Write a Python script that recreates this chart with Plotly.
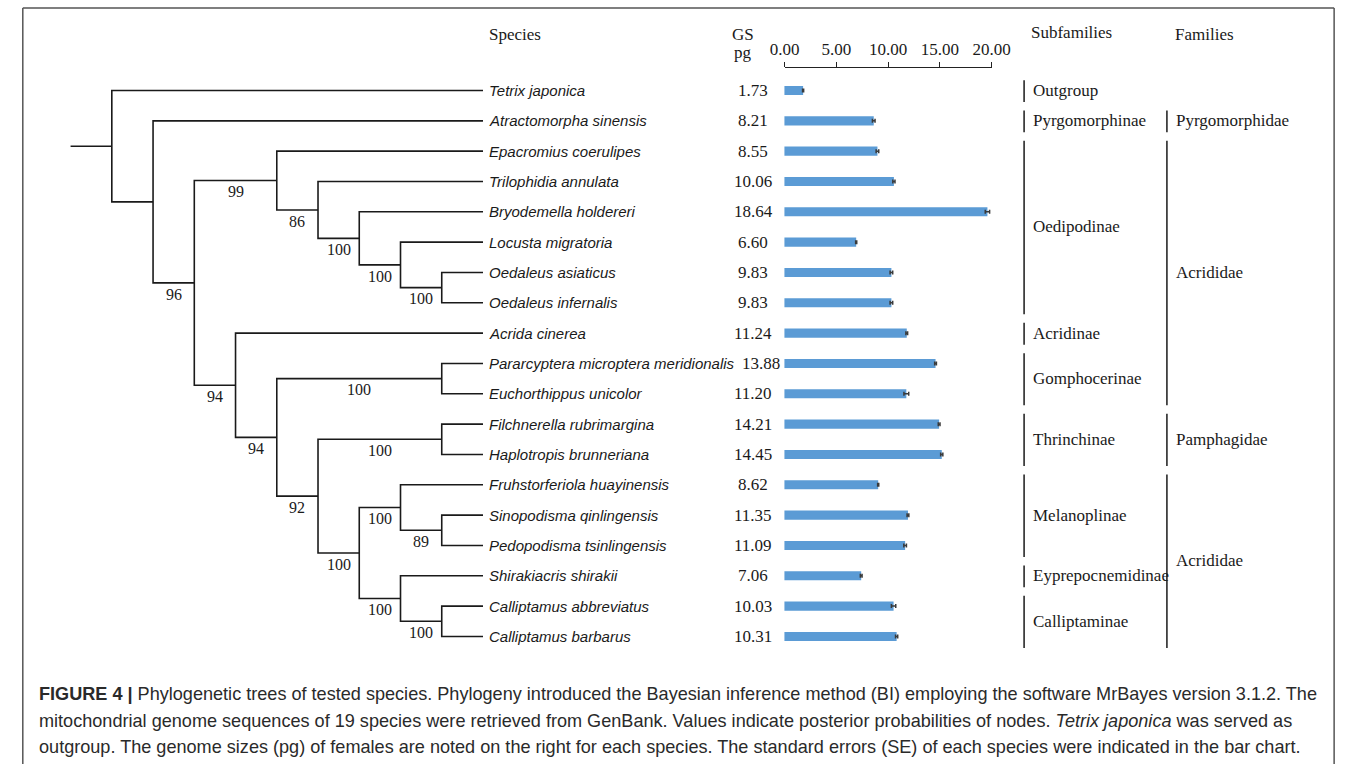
import plotly.graph_objects as go

W, H = 1358, 764

# ---------------- data ----------------
species = [
    "Tetrix japonica", "Atractomorpha sinensis", "Epacromius coerulipes",
    "Trilophidia annulata", "Bryodemella holdereri", "Locusta migratoria",
    "Oedaleus asiaticus", "Oedaleus infernalis", "Acrida cinerea",
    "Pararcyptera microptera meridionalis", "Euchorthippus unicolor",
    "Filchnerella rubrimargina", "Haplotropis brunneriana",
    "Fruhstorferiola huayinensis", "Sinopodisma qinlingensis",
    "Pedopodisma tsinlingensis", "Shirakiacris shirakii",
    "Calliptamus abbreviatus", "Calliptamus barbarus",
]
genome_size = [1.73, 8.21, 8.55, 10.06, 18.64, 6.60, 9.83, 9.83, 11.24, 13.88,
               11.20, 14.21, 14.45, 8.62, 11.35, 11.09, 7.06, 10.03, 10.31]
genome_se = [0.05, 0.12, 0.12, 0.10, 0.20, 0.05, 0.12, 0.12, 0.08, 0.08,
             0.22, 0.08, 0.10, 0.05, 0.08, 0.12, 0.08, 0.20, 0.10]
subfamily_of = ["Outgroup", "Pyrgomorphinae"] + ["Oedipodinae"] * 6 + ["Acridinae"] + \
    ["Gomphocerinae"] * 2 + ["Thrinchinae"] * 2 + ["Melanoplinae"] * 3 + \
    ["Eyprepocnemidinae"] + ["Calliptaminae"] * 2
family_of = [None, "Pyrgomorphidae"] + ["Acrididae"] * 9 + ["Pamphagidae"] * 2 + ["Acrididae"] * 6
scale_ticks = [0, 5, 10, 15, 20]

# tree topology: (posterior label, [children]); leaves are species names
tree = ("", [
    "Tetrix japonica",
    ("", [
        "Atractomorpha sinensis",
        ("96", [
            ("99", [
                "Epacromius coerulipes",
                ("86", [
                    "Trilophidia annulata",
                    ("100", [
                        "Bryodemella holdereri",
                        ("100", [
                            "Locusta migratoria",
                            ("100", ["Oedaleus asiaticus", "Oedaleus infernalis"]),
                        ]),
                    ]),
                ]),
            ]),
            ("94", [
                "Acrida cinerea",
                ("94", [
                    ("100", ["Pararcyptera microptera meridionalis", "Euchorthippus unicolor"]),
                    ("92", [
                        ("100", ["Filchnerella rubrimargina", "Haplotropis brunneriana"]),
                        ("100", [
                            ("100", ["Fruhstorferiola huayinensis",
                                     ("89", ["Sinopodisma qinlingensis", "Pedopodisma tsinlingensis"])]),
                            ("100", ["Shirakiacris shirakii",
                                     ("100", ["Calliptamus abbreviatus", "Calliptamus barbarus"])]),
                        ]),
                    ]),
                ]),
            ]),
        ]),
    ]),
])

caption_lines = [
    "<b>FIGURE 4 |</b> Phylogenetic trees of tested species. Phylogeny introduced the Bayesian inference method (BI) employing the software MrBayes version 3.1.2. The",
    "mitochondrial genome sequences of 19 species were retrieved from GenBank. Values indicate posterior probabilities of nodes. <i>Tetrix japonica</i> was served as",
    "outgroup. The genome sizes (pg) of females are noted on the right for each species. The standard errors (SE) of each species were indicated in the bar chart.",
]

# ---------------- helpers ----------------
def px(x):
    return x / W

def py(y):
    return 1 - y / H

TIP_LEVEL = 10
ROW0, ROWSTEP = 90.5, 30.33
SERIF = "Liberation Serif"
SANS = "Liberation Sans"


def build(node):
    if isinstance(node, str):
        return {"level": TIP_LEVEL, "y": species.index(node), "label": ""}
    label, children = node
    ch = [build(c) for c in children]
    return {"level": min(c["level"] for c in ch) - 1,
            "y": (ch[0]["y"] + ch[-1]["y"]) / 2, "label": label, "children": ch}


root = build(tree)
tx, ty = [], []
annotations = []


def draw(n):
    ch = n.get("children")
    if not ch:
        return
    c0, c1 = ch[0], ch[-1]
    tx.extend([c0["level"], n["level"], n["level"], c1["level"], None])
    ty.extend([c0["y"], c0["y"], c1["y"], c1["y"], None])
    for c in ch:
        if c["label"]:
            annotations.append(dict(
                x=(n["level"] + c["level"]) / 2, y=c["y"] + 0.37, xref="x", yref="y",
                text=c["label"], showarrow=False, xanchor="center", yanchor="middle",
                font=dict(family=SERIF, size=16, color="#1a1a1a")))
        draw(c)


draw(root)
tx.extend([root["level"] - 1, root["level"], None])
ty.extend([root["y"], root["y"], None])

fig = go.Figure()
fig.add_trace(go.Scatter(x=tx, y=ty, mode="lines", xaxis="x", yaxis="y",
                         line=dict(color="#1a1a1a", width=1.6), hoverinfo="skip"))

rows = list(range(len(species)))
fig.add_trace(go.Bar(
    x=genome_size, y=rows, orientation="h", xaxis="x2", yaxis="y", width=0.3,
    marker=dict(color="#5b9bd5", line=dict(width=0)),
    error_x=dict(type="data", array=genome_se, color="#3a3a3a", thickness=1.5, width=2),
))
fig.add_trace(go.Scatter(x=[scale_ticks[0], scale_ticks[-1]], y=[0, 0], xaxis="x3", yaxis="y3",
                         mode="markers", marker=dict(opacity=0), hoverinfo="skip"))

# species names and values (long names push their value a little to the right)
for i, name in enumerate(species):
    annotations.append(dict(x=TIP_LEVEL, y=i, xref="x", yref="y", xshift=4, text=f"<i>{name}</i>",
                            showarrow=False, xanchor="left", yanchor="middle",
                            font=dict(family=SANS, size=15, color="#1a1a1a")))
    annotations.append(dict(x=px(757), y=i, xref="paper", yref="y", text=f"{genome_size[i]:.2f}",
                            xshift=8 if len(name) > 30 else 0,
                            showarrow=False, xanchor="center", yanchor="middle",
                            font=dict(family=SERIF, size=17, color="#1a1a1a")))


def runs(groups):
    out = []
    start = 0
    for i in range(1, len(groups) + 1):
        if i == len(groups) or groups[i] != groups[start]:
            if groups[start] is not None:
                out.append((groups[start], start, i - 1))
            start = i
    return out


shapes = []
for groups, xline in ((subfamily_of, 1035), (family_of, 1181.5)):
    for name, a, b in runs(groups):
        shapes.append(dict(type="line", xref="paper", yref="y", x0=px(xline), x1=px(xline),
                           y0=a - 0.34, y1=b + 0.38, line=dict(color="#1a1a1a", width=1.5)))
        annotations.append(dict(x=px(xline + 7), y=(a + b) / 2, xref="paper", yref="y", text=name,
                                showarrow=False, xanchor="left", yanchor="middle",
                                font=dict(family=SERIF, size=17, color="#1a1a1a")))

# headers
for text, x, y in (("Species", 513, 34), ("GS", 747, 34), ("pg", 747, 52),
                   ("Subfamilies", 1084, 33), ("Families", 1220, 34)):
    annotations.append(dict(x=px(x), y=py(y), xref="paper", yref="paper", text=text,
                            showarrow=False, xanchor="center", yanchor="middle",
                            font=dict(family=SERIF, size=17, color="#1a1a1a")))

# caption
for k, line in enumerate(caption_lines):
    annotations.append(dict(x=px(23), y=py(694 + 26.5 * k), xref="paper", yref="paper", text=line,
                            showarrow=False, xanchor="left", yanchor="middle",
                            font=dict(family=SANS, size=18.1, color="#2a2a2a")))

# outer frame
frame = dict(color="#555555", width=1.5)
shapes += [
    dict(type="line", xref="paper", yref="paper", x0=px(8), x1=px(8), y0=py(8), y1=py(780), line=frame),
    dict(type="line", xref="paper", yref="paper", x0=px(1353), x1=px(1353), y0=py(8), y1=py(780), line=frame),
    dict(type="line", xref="paper", yref="paper", x0=px(8), x1=px(1353), y0=py(8), y1=py(8), line=frame),
]

tree_px0, tree_step = 57, 42.3
fig.update_layout(
    width=W, height=H, margin=dict(l=0, r=0, t=0, b=0),
    paper_bgcolor="white", plot_bgcolor="rgba(0,0,0,0)", showlegend=False,
    xaxis=dict(domain=[px(tree_px0 - 0.2 * tree_step), px(tree_px0 + 10.2 * tree_step)],
               range=[-0.2, 10.2], visible=False, anchor="y"),
    yaxis=dict(domain=[py(ROW0 + 18.5 * ROWSTEP), py(ROW0 - 0.5 * ROWSTEP)],
               range=[18.5, -0.5], visible=False, anchor="x"),
    xaxis2=dict(domain=[px(789), px(789 + 20 * 11.18)], range=[0, 20], visible=False, anchor="y"),
    xaxis3=dict(domain=[px(789.5), px(1001.7)], range=[0, 20], anchor="y3", side="top",
                showline=True, linecolor="#222", linewidth=1.2, ticks="outside", ticklen=5,
                tickwidth=1.2, tickcolor="#222", tickvals=scale_ticks,
                ticktext=[f"{t:.2f}" for t in scale_ticks], showgrid=False, zeroline=False,
                tickfont=dict(family=SERIF, size=17, color="#1a1a1a")),
    yaxis3=dict(domain=[py(70), py(68)], range=[0, 1], visible=False, anchor="x3"),
    annotations=annotations, shapes=shapes,
)

fig.write_html("out.html")
